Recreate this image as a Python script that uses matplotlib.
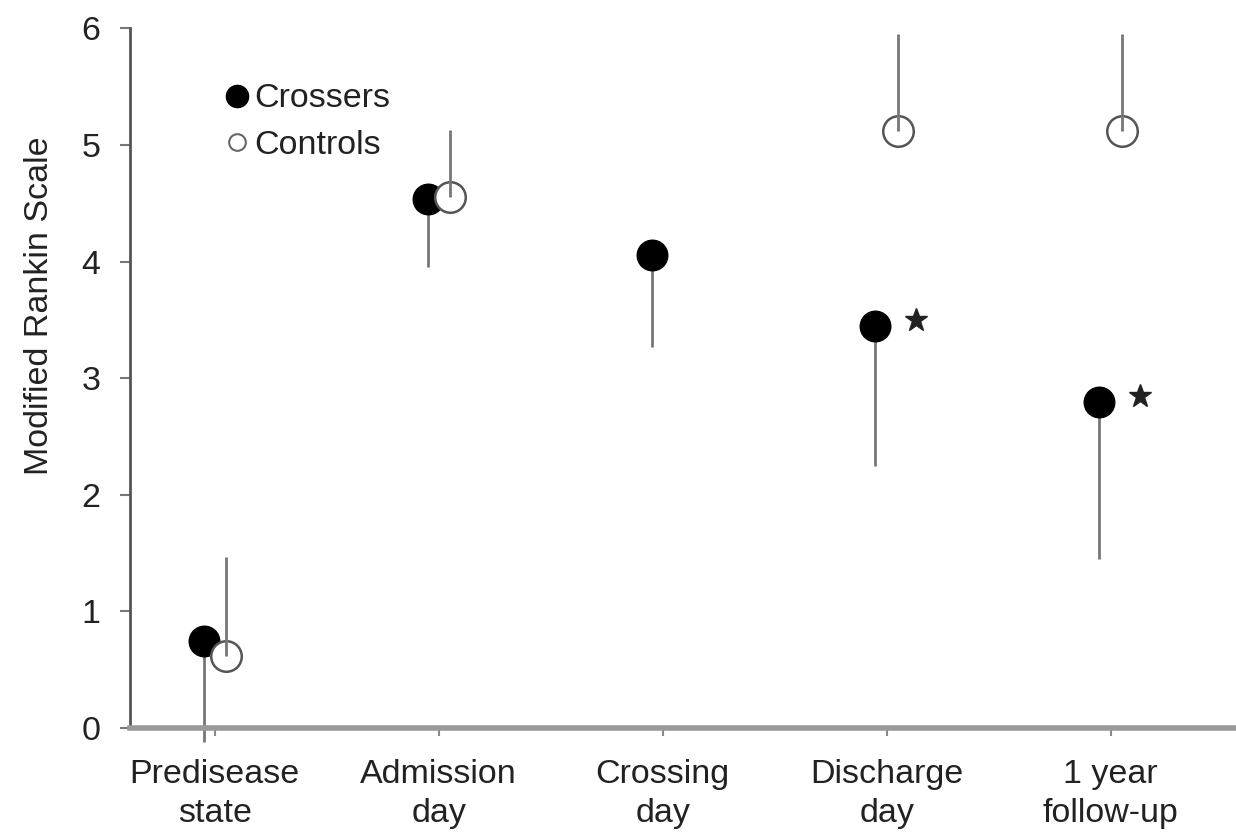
import numpy as np
import matplotlib.pyplot as plt
from matplotlib.lines import Line2D

plt.rcParams['font.family'] = ['Liberation Sans', 'DejaVu Sans']

categories = ["Predisease\nstate", "Admission\nday", "Crossing\nday", "Discharge\nday", "1 year\nfollow-up"]
crossers_mean = [0.75, 4.54, 4.06, 3.45, 2.80]
crossers_low = [-0.12, 3.95, 3.27, 2.25, 1.45]
controls_mean = [0.62, 4.55, np.nan, 5.12, 5.12]
controls_high = [1.47, 5.13, np.nan, 5.95, 5.95]
significant = [False, False, False, True, True]

text_col = "#222222"
bar_col = "#777777"
fs = 24.5

fig = plt.figure(figsize=(12.36, 8.34), dpi=100)
ax = fig.add_axes([0.105, 0.127, 0.895, 0.839])

x = np.arange(len(categories))
off = 0.05
cm = np.array(crossers_mean)
cl = np.array(crossers_low)
km = np.array(controls_mean)
kh = np.array(controls_high)

# crossers: error bar downward, marker on top
ax.vlines(x - off, cl, cm, color=bar_col, lw=2, zorder=2, clip_on=False)
ax.plot(x - off, cm, 'o', ms=22, mfc='black', mec='black', ls='none', zorder=3)

# controls: marker first, error bar upward drawn over it
ax.plot(x + off, km, 'o', ms=22, mfc='white', mec='#555555', mew=1.8, ls='none', zorder=4)
ax.vlines(x + off, km, kh, color=bar_col, lw=2, zorder=5)

# significance stars
sig = np.array(significant)
ax.plot(x[sig] + 0.13, cm[sig] + 0.05, '*', ms=17, color='#222222', ls='none', zorder=6)

ax.set_xlim(-0.38, 4.56)
ax.set_ylim(0, 6)
ax.set_yticks(range(7))
ax.set_xticks(x)
ax.set_xticklabels(categories, fontsize=fs, color=text_col, linespacing=1.35)
ax.tick_params(axis='y', labelsize=fs, labelcolor=text_col, length=7, width=1.5,
               color='#777777', pad=14)
ax.tick_params(axis='x', length=6, width=1.5, color='#888888', pad=16)
ax.set_ylabel("Modified Rankin Scale", fontsize=fs, color=text_col)
ax.yaxis.set_label_coords(-0.068, 0.604)

for s in ['top', 'right']:
    ax.spines[s].set_visible(False)
ax.spines['left'].set_color('#555555')
ax.spines['left'].set_linewidth(2)
ax.spines['bottom'].set_color('#999999')
ax.spines['bottom'].set_linewidth(4)

handles = [
    Line2D([], [], marker='o', ls='none', ms=16, mfc='black', mec='black'),
    Line2D([], [], marker='o', ls='none', ms=12, mfc='white', mec='#666666', mew=1.5),
]
ax.legend(handles, ["Crossers", "Controls"], loc='upper left', bbox_to_anchor=(0.054, 0.965),
          frameon=False, fontsize=fs, handletextpad=0.0, labelspacing=0.45,
          handlelength=1.0, labelcolor=text_col)

fig.savefig("out.png", dpi=100)
